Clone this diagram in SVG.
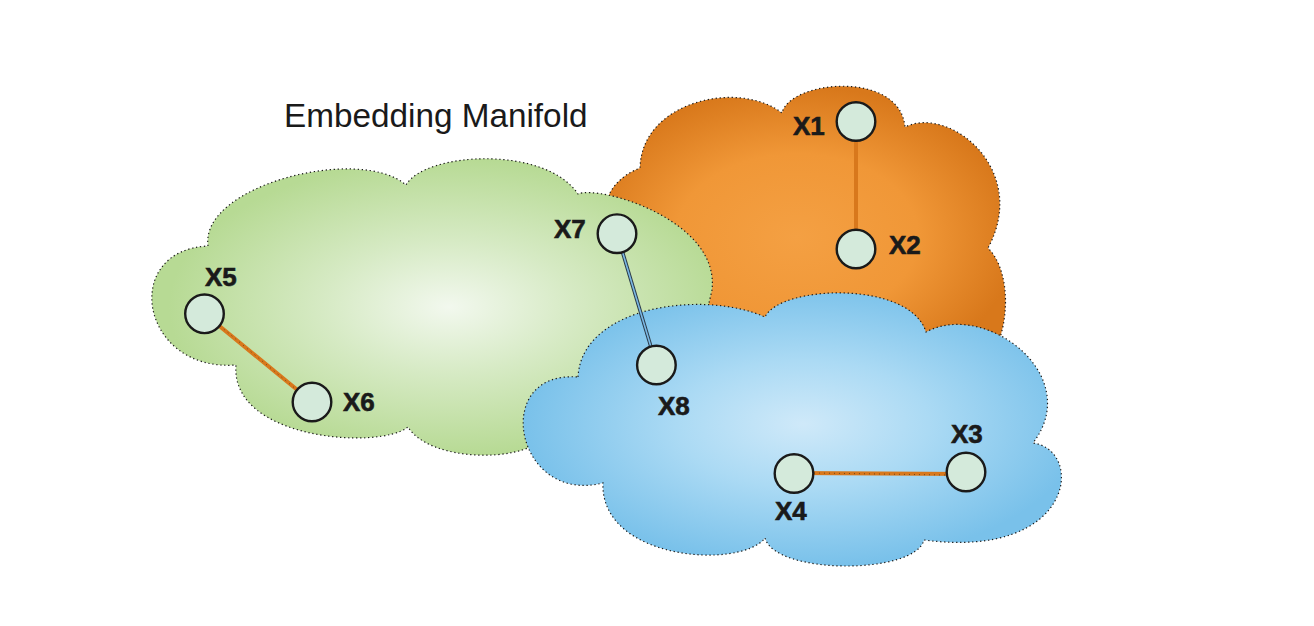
<svg xmlns="http://www.w3.org/2000/svg" width="1314" height="626" viewBox="0 0 1314 626">
  <style>
    .cloud { stroke: #1a1a1a; stroke-width: 1.2; stroke-dasharray: 1.3 2.7; }
    .node circle { fill: #d4eadb; stroke: #1a1a1a; stroke-width: 2.4; }
    .lbl { font-family: "Liberation Sans", Arial, sans-serif; font-weight: bold; font-size: 26px; fill: #1a1a1a; stroke: #1a1a1a; stroke-width: 0.6; }
    .title { font-family: "Liberation Sans", Arial, sans-serif; font-size: 33.3px; fill: #1a1a1a; }
    .orangeLine { stroke: #d8781c; stroke-width: 4; stroke-linecap: round; fill: none; }
    .dots { stroke: #1a1a1a; stroke-width: 1; stroke-dasharray: 1 4; opacity: 0.55; fill: none; }
  </style>
  <defs>
    <radialGradient id="gGreen" cx="0.53" cy="0.5" r="0.5">
      <stop offset="0" stop-color="#f2f8ee"/>
      <stop offset="0.45" stop-color="#d6eac4"/>
      <stop offset="1" stop-color="#b7da94"/>
    </radialGradient>
    <radialGradient id="gOrange" cx="0.48" cy="0.55" r="0.55">
      <stop offset="0" stop-color="#f4a043"/>
      <stop offset="0.55" stop-color="#f09737"/>
      <stop offset="1" stop-color="#d8781b"/>
    </radialGradient>
    <radialGradient id="gBlue" cx="0.52" cy="0.48" r="0.52">
      <stop offset="0" stop-color="#cfe9f9"/>
      <stop offset="0.45" stop-color="#abdaf4"/>
      <stop offset="1" stop-color="#79c1ea"/>
    </radialGradient>
  </defs>
  <rect width="1314" height="626" fill="#ffffff"/>

  <text class="title" x="284" y="127">Embedding Manifold</text>

  <g id="cloud-orange">
    <path class="cloud" fill="url(#gOrange)" d="M640,260 C590,240 595,185 640,168 C642,100 740,80 782,113 C790,80 900,70 905,127 C950,105 1030,170 988,248 C1010,270 1010,320 995,350 L850,360 L720,340 Z"/>
  </g>
  <g id="cloud-green">
    <path class="cloud" fill="url(#gGreen)" d="M208,246 C200,185 360,145 406,185 C425,152 545,145 578,194 C600,185 720,220 712,290 L705,320 L640,380 L540,440 C520,462 430,462 408,427 C380,450 230,440 236,365 C140,372 120,250 208,246 Z"/>
  </g>
  <g id="cloud-blue">
    <path class="cloud" fill="url(#gBlue)" d="M578,377 C582,305 705,290 765,317 C780,285 910,280 926,332 C985,300 1085,375 1033,443 C1085,450 1075,560 924,540 C915,575 775,575 765,538 C740,570 600,560 603,483 C515,505 490,370 578,377 Z"/>
  </g>

  <g id="connectors">
    <line class="orangeLine" x1="856" y1="122" x2="856" y2="249"/>
    <line class="orangeLine" x1="794" y1="473" x2="966" y2="474"/>
    <line class="dots" x1="814" y1="473" x2="946" y2="475"/>
    <line class="orangeLine" x1="204.5" y1="313.8" x2="312" y2="402"/>
    <line class="dots" x1="220" y1="326" x2="297" y2="390"/>
    <line x1="617" y1="233.7" x2="656.4" y2="365" stroke="#2a3a48" stroke-width="3.6"/>
    <line x1="617" y1="233.7" x2="656.4" y2="365" stroke="#7ab8e4" stroke-width="1.6"/>
  </g>

  <g id="node-x1" class="node"><circle cx="856" cy="121.5" r="19.3"/><text class="lbl" x="793" y="135">X1</text></g>
  <g id="node-x2" class="node"><circle cx="856" cy="249" r="19.3"/><text class="lbl" x="889" y="254">X2</text></g>
  <g id="node-x3" class="node"><circle cx="966" cy="472" r="19.3"/><text class="lbl" x="951" y="443">X3</text></g>
  <g id="node-x4" class="node"><circle cx="794" cy="473.5" r="19.3"/><text class="lbl" x="775" y="520">X4</text></g>
  <g id="node-x5" class="node"><circle cx="204.5" cy="313.8" r="19.3"/><text class="lbl" x="205" y="286">X5</text></g>
  <g id="node-x6" class="node"><circle cx="312" cy="402" r="19.3"/><text class="lbl" x="343" y="411">X6</text></g>
  <g id="node-x7" class="node"><circle cx="617" cy="233.7" r="19.3"/><text class="lbl" x="554" y="238">X7</text></g>
  <g id="node-x8" class="node"><circle cx="656.4" cy="365" r="19.3"/><text class="lbl" x="658" y="415">X8</text></g>
</svg>
